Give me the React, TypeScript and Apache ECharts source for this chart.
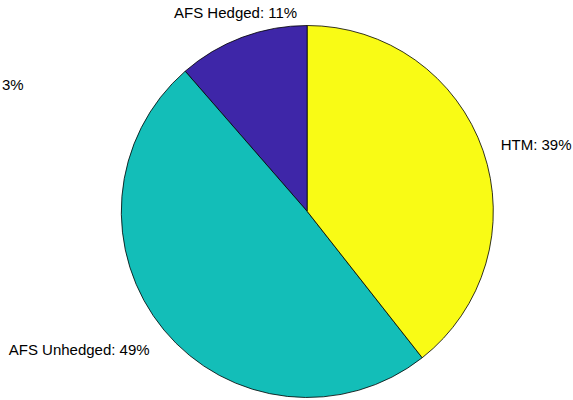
import React, { useEffect, useRef } from "react";
import * as echarts from "echarts";

const categories = ["AFS Hedged", "AFS Unhedged", "HTM"];
const values = [11.4, 49.2, 39.4];
const colors = ["#3E26A8", "#13BEB8", "#F9FB15"];
const strayLabel = "3%";

const CX = 307.3;
const CY = 211.5;
const R = 186;
const LABEL_R = 1.1;

export default function App() {
  const ref = useRef<HTMLDivElement>(null);
  useEffect(() => {
    if (!ref.current) return;
    const chart = echarts.init(ref.current, undefined, { renderer: "svg" });
    const total = values.reduce((a, b) => a + b, 0);
    const mids: number[] = [];
    let acc = 0;
    values.forEach((v) => {
      mids.push(((acc + v / 2) / total) * Math.PI * 2);
      acc += v;
    });
    chart.setOption({
      animation: false,
      backgroundColor: "#ffffff",
      series: [
        {
          type: "pie",
          center: [CX, CY],
          radius: R,
          startAngle: 90,
          clockwise: false,
          avoidLabelOverlap: false,
          emphasis: { disabled: true },
          itemStyle: { borderColor: "#000000", borderWidth: 0.8 },
          labelLine: { show: false },
          label: {
            show: true,
            position: "outside",
            fontFamily: "Liberation Sans, Arial, sans-serif",
            fontSize: 15,
            color: "#000000",
            formatter: (p: any) => `${p.name}: ${Math.round(p.percent)}%`,
          },
          labelLayout: (p: any) => {
            const a = mids[p.dataIndex];
            const sx = -Math.sin(a);
            const sy = -Math.cos(a);
            const x = CX + sx * R * LABEL_R;
            const y = CY + sy * R * LABEL_R;
            const align = Math.abs(sx) < 0.5 ? "center" : sx > 0 ? "left" : "right";
            const verticalAlign = sy < -0.5 ? "bottom" : sy > 0.5 ? "top" : "middle";
            return { x, y, align, verticalAlign };
          },
          data: categories.map((name, i) => ({
            name,
            value: values[i],
            itemStyle: { color: colors[i] },
          })),
        },
      ],
      graphic: [
        {
          type: "text",
          left: 2,
          top: 77,
          style: {
            text: strayLabel,
            fontFamily: "Liberation Sans, Arial, sans-serif",
            fontSize: 15,
            fill: "#000000",
          },
        },
      ],
    });
    return () => chart.dispose();
  }, []);
  return (
    <div
      ref={ref}
      style={{ position: "absolute", left: 0, top: 0, width: 573, height: 400, background: "#fff" }}
    />
  );
}
